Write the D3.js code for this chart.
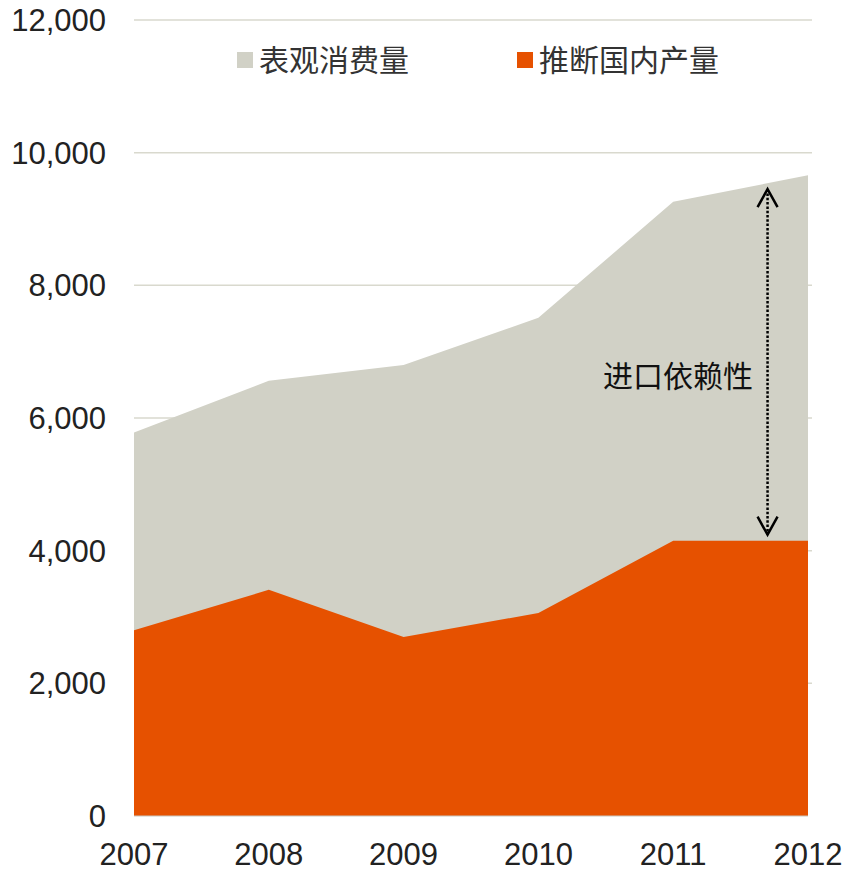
<!DOCTYPE html>
<html>
<head>
<meta charset="utf-8">
<script src="https://cdn.jsdelivr.net/npm/d3@7"></script>
<style>
  body { margin: 0; background: #fff; }
</style>
</head>
<body>
<div id="chart"></div>
<script>
var w = 848;
var h = 871;

var years = [2007, 2008, 2009, 2010, 2011, 2012];
var consumption = [5780, 6560, 6800, 7510, 9260, 9660];   // 表观消费量
var production = [2800, 3410, 2700, 3060, 4150, 4150];    // 推断国内产量
var yTicks = [0, 2000, 4000, 6000, 8000, 10000, 12000];
var seriesNames = ["表观消费量", "推断国内产量"];
var colors = ["#d1d1c6", "#e65100"];
var noteText = "进口依赖性";
var noteYear = 2011.7;

var margin = {left: 134, right: 40, top: 20, bottom: 55};

var xScale = d3.scaleLinear()
                .domain([2007, 2012])
                .range([margin.left, w - margin.right]);

var yScale = d3.scaleLinear()
                .domain([0, 12000])
                .range([h - margin.bottom, margin.top]);

var svg = d3.select("#chart")
            .append("svg")
            .attr("width", w)
            .attr("height", h);

// gridlines
svg.append("g")
    .selectAll("line")
    .data(yTicks.slice(1))
    .enter()
    .append("line")
    .attr("x1", xScale(2007))
    .attr("x2", xScale(2012) + 4)
    .attr("y1", function(d) { return yScale(d); })
    .attr("y2", function(d) { return yScale(d); })
    .attr("stroke", "#d9d9ce")
    .attr("stroke-width", 1.5);

var area = function(vals) {
    return d3.area()
        .x(function(d, i) { return xScale(years[i]); })
        .y0(yScale(0))
        .y1(function(d) { return yScale(d); })(vals);
};

svg.append("path")
    .attr("d", area(consumption))
    .attr("fill", colors[0]);

svg.append("path")
    .attr("d", area(production))
    .attr("fill", colors[1]);

// baseline
svg.append("line")
    .attr("x1", xScale(2007))
    .attr("x2", xScale(2012))
    .attr("y1", yScale(0))
    .attr("y2", yScale(0))
    .attr("stroke", "#c8c8c0")
    .attr("stroke-width", 1);

// y axis labels
svg.append("g")
    .selectAll("text")
    .data(yTicks)
    .enter()
    .append("text")
    .text(function(d) { return d3.format(",")(d); })
    .attr("x", 106)
    .attr("y", function(d) { return yScale(d); })
    .attr("dy", "0.35em")
    .attr("text-anchor", "end")
    .attr("font-family", "Liberation Sans, Arial, sans-serif")
    .attr("font-size", "31px")
    .attr("fill", "#222");

// x axis labels
svg.append("g")
    .selectAll("text")
    .data(years)
    .enter()
    .append("text")
    .text(function(d) { return d; })
    .attr("x", function(d) { return xScale(d); })
    .attr("y", 865)
    .attr("text-anchor", "middle")
    .attr("font-family", "Liberation Sans, Arial, sans-serif")
    .attr("font-size", "31px")
    .attr("fill", "#222");

// legend
var legendX = [237, 517];
var legend = svg.append("g")
    .selectAll("g")
    .data(seriesNames)
    .enter()
    .append("g")
    .attr("transform", function(d, i) { return "translate(" + legendX[i] + ",60)"; });

legend.append("rect")
    .attr("x", 0)
    .attr("y", -8)
    .attr("width", 16)
    .attr("height", 16)
    .attr("fill", function(d, i) { return colors[i]; });

legend.append("text")
    .text(function(d) { return d; })
    .attr("x", 22)
    .attr("y", 0)
    .attr("dy", "0.36em")
    .attr("font-family", "Noto Sans CJK SC, sans-serif")
    .attr("font-size", "30px")
    .attr("fill", "#333");

// import dependence arrow
var frac = noteYear - 2011;
var topVal = consumption[4] + (consumption[5] - consumption[4]) * frac;
var botVal = production[4] + (production[5] - production[4]) * frac;
var ax = xScale(noteYear);
var ay1 = yScale(topVal) + 6;
var ay2 = yScale(botVal) - 6;

svg.append("line")
    .attr("x1", ax).attr("x2", ax)
    .attr("y1", ay1).attr("y2", ay2)
    .attr("stroke", "#000")
    .attr("stroke-width", 2.5)
    .attr("stroke-dasharray", "2.5,1.8");

svg.append("path")
    .attr("d", "M" + (ax - 10) + "," + (ay1 + 18) + "L" + ax + "," + ay1 + "L" + (ax + 10) + "," + (ay1 + 18))
    .attr("fill", "none")
    .attr("stroke", "#000")
    .attr("stroke-width", 2.5);

svg.append("path")
    .attr("d", "M" + (ax - 10) + "," + (ay2 - 18) + "L" + ax + "," + ay2 + "L" + (ax + 10) + "," + (ay2 - 18))
    .attr("fill", "none")
    .attr("stroke", "#000")
    .attr("stroke-width", 2.5);

svg.append("text")
    .text(noteText)
    .attr("x", 753)
    .attr("y", 376)
    .attr("dy", "0.36em")
    .attr("text-anchor", "end")
    .attr("font-family", "Noto Sans CJK SC, sans-serif")
    .attr("font-size", "30px")
    .attr("fill", "#111");
</script>
</body>
</html>
